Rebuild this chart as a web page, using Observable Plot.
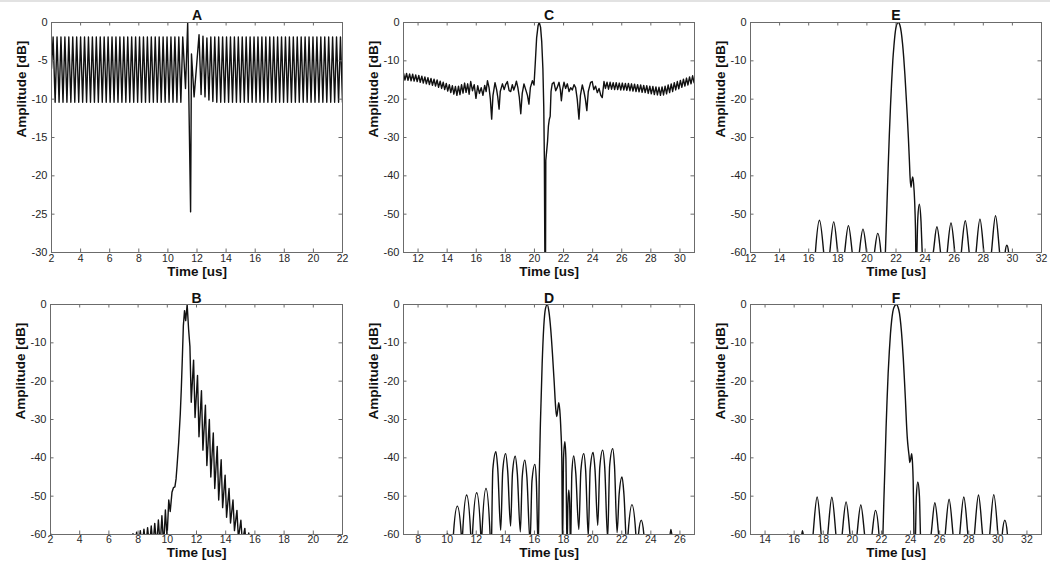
<!DOCTYPE html>
<html><head><meta charset="utf-8">
<script src="https://cdn.jsdelivr.net/npm/d3@7"></script>
<script src="https://cdn.jsdelivr.net/npm/@observablehq/plot@0.6"></script>
<style>
html,body{margin:0;padding:0;background:#fff;}
#root{position:relative;width:1050px;height:567px;overflow:hidden;background:#fff;}
#topband{position:absolute;left:0;top:0;width:1050px;height:2px;background:#e2e2e2;}
</style></head><body><div id="root"><div id="topband"></div></div>
<script>
// ---------- tick values ----------
const xTicksA = [2,4,6,8,10,12,14,16,18,20,22];
const xTicksB = [2,4,6,8,10,12,14,16,18,20,22];
const xTicksC = [12,14,16,18,20,22,24,26,28,30];
const xTicksD = [8,10,12,14,16,18,20,22,24,26];
const xTicksE = [12,14,16,18,20,22,24,26,28,30,32];
const xTicksF = [14,16,18,20,22,24,26,28,30,32];
const yTicksA = [0,-5,-10,-15,-20,-25,-30];
const yTicks60 = [0,-10,-20,-30,-40,-50,-60];

// ---------- traces: [time us, amplitude dB] ----------
const traceA = [[2.00,-6.0],
[2.11,-1.9],[2.25,-10.4],[2.38,-1.9],[2.52,-10.4],[2.65,-1.9],[2.79,-10.4],[2.92,-1.9],[3.06,-10.4],[3.19,-1.9],[3.33,-10.4],
[3.46,-1.9],[3.60,-10.4],[3.73,-1.9],[3.87,-10.4],[4.00,-1.9],[4.14,-10.4],[4.27,-1.9],[4.41,-10.4],[4.54,-1.9],[4.68,-10.4],
[4.81,-1.9],[4.95,-10.4],[5.08,-1.9],[5.22,-10.4],[5.35,-1.9],[5.49,-10.4],[5.62,-1.9],[5.76,-10.4],[5.89,-1.9],[6.03,-10.4],
[6.16,-1.9],[6.30,-10.4],[6.43,-1.9],[6.57,-10.4],[6.70,-1.9],[6.84,-10.4],[6.97,-1.9],[7.11,-10.4],[7.24,-1.9],[7.38,-10.4],
[7.51,-1.9],[7.65,-10.4],[7.78,-1.9],[7.92,-10.4],[8.05,-1.9],[8.19,-10.4],[8.32,-1.9],[8.46,-10.4],[8.59,-1.9],[8.73,-10.4],
[8.86,-1.9],[9.00,-10.4],[9.13,-1.9],[9.27,-10.4],[9.40,-1.9],[9.54,-10.4],[9.67,-1.9],[9.81,-10.4],[9.94,-1.9],[10.08,-10.4],
[10.21,-1.9],[10.35,-10.4],[10.48,-1.9],[10.62,-10.4],[10.75,-1.9],[10.89,-10.4],[11.02,-1.9],[11.21,-8.6],[11.36,0],
[11.56,-24.7],[11.62,-4.1],[11.80,-9.7],[12.14,-1.6],[12.28,-9.4],[12.41,-1.8],[12.55,-9.7],[12.68,-2.0],[12.82,-10.1],
[12.95,-1.9],[13.09,-10.3],[13.22,-1.9],[13.36,-10.4],[13.49,-1.9],[13.63,-10.4],[13.76,-1.9],[13.90,-10.4],[14.03,-1.9],
[14.17,-10.4],[14.30,-1.9],[14.44,-10.4],[14.57,-1.9],[14.71,-10.4],[14.84,-1.9],[14.98,-10.4],[15.11,-1.9],[15.25,-10.4],
[15.38,-1.9],[15.52,-10.4],[15.65,-1.9],[15.79,-10.4],[15.92,-1.9],[16.06,-10.4],[16.19,-1.9],[16.33,-10.4],[16.46,-1.9],
[16.60,-10.4],[16.73,-1.9],[16.87,-10.4],[17.00,-1.9],[17.14,-10.4],[17.27,-1.9],[17.41,-10.4],[17.54,-1.9],[17.68,-10.4],
[17.81,-1.9],[17.95,-10.4],[18.08,-1.9],[18.22,-10.4],[18.35,-1.9],[18.49,-10.4],[18.62,-1.9],[18.76,-10.4],[18.89,-1.9],
[19.03,-10.4],[19.16,-1.9],[19.30,-10.4],[19.43,-1.9],[19.57,-10.4],[19.70,-1.9],[19.84,-10.4],[19.97,-1.9],[20.11,-10.4],
[20.24,-1.9],[20.38,-10.4],[20.51,-1.9],[20.65,-10.4],[20.78,-1.9],[20.92,-10.4],[21.05,-1.9],[21.19,-10.4],[21.32,-1.9],
[21.46,-10.4],[21.59,-1.9],[21.73,-10.4],[21.86,-1.9],[22.00,-10.4]];

const traceB = [[2.00,-59.7],[2.08,-63],[7.50,-63],
[7.65,-59.8],[7.78,-63],[7.90,-59.4],[8.03,-63],[8.15,-59.0],[8.28,-63],[8.40,-58.6],[8.53,-63],[8.65,-58.2],[8.78,-63],
[8.90,-57.8],[9.02,-63],[9.14,-57.1],[9.27,-63],[9.39,-56.2],[9.51,-63],[9.63,-55.1],[9.75,-63],[9.87,-53.6],[9.98,-61],
[10.10,-51.0],[10.20,-54.0],[10.32,-49.0],[10.42,-47.8],[10.52,-47.6],[10.60,-45.5],[10.67,-42],[10.78,-36],[10.89,-28.5],
[10.96,-22],[11.03,-14],[11.10,-5.5],[11.18,-1.6],[11.26,-4.2],[11.36,0],[11.46,-6.5],[11.55,-11.0],[11.64,-25.5],
[11.80,-14.5],[11.90,-29.5],[12.07,-18.5],[12.17,-34.5],[12.34,-22.5],[12.44,-38],[12.61,-26.3],[12.71,-42],[12.88,-30],
[12.98,-45],[13.15,-33.5],[13.25,-48],[13.42,-37],[13.52,-51],[13.69,-40.5],[13.79,-53],[13.96,-44.5],[14.06,-55.5],
[14.23,-48],[14.33,-57],[14.50,-51],[14.60,-59],[14.77,-53.7],[14.87,-61],[15.04,-56.3],[15.14,-62],[15.31,-58.4],
[15.41,-63],[15.58,-59.6],[15.68,-64],[15.80,-66]];

const traceC = [[11.00,-13.2],[11.10,-15.0],[11.21,-13.3],[11.31,-15.1],[11.42,-13.4],[11.52,-15.2],[11.63,-13.5],[11.73,-15.3],
[11.84,-13.7],[11.94,-15.4],[12.05,-13.8],[12.15,-15.6],[12.26,-14.0],[12.36,-15.8],[12.47,-14.2],[12.57,-16.0],[12.68,-14.4],
[12.78,-16.2],[12.89,-14.6],[12.99,-16.4],[13.10,-14.8],[13.20,-16.6],[13.31,-15.0],[13.41,-16.9],[13.52,-15.3],[13.62,-17.2],
[13.73,-15.6],[13.83,-17.5],[13.94,-15.9],[14.04,-17.9],[14.15,-16.2],[14.25,-18.3],[14.36,-16.5],[14.46,-18.7],[14.57,-16.7],
[14.67,-19.0],[14.78,-16.6],[14.88,-18.8],[14.99,-16.2],[15.09,-18.4],[15.20,-15.8],[15.30,-18.2],[15.41,-16.0],[15.51,-18.7],
[15.62,-15.4],[15.74,-17.8],[15.86,-16.2],[15.98,-19.8],[16.10,-16.5],[16.22,-18.5],[16.34,-17.0],[16.46,-19.0],[16.58,-16.4],
[16.68,-18.0],[16.77,-15.2],[16.88,-17.0],[16.97,-20.0],[17.06,-25.2],[17.15,-19.0],[17.29,-15.7],[17.40,-17.5],[17.48,-19.5],
[17.57,-22.6],[17.65,-18.0],[17.80,-16.0],[17.92,-17.5],[18.02,-16.2],[18.14,-15.4],[18.26,-17.8],[18.37,-18.0],[18.48,-16.2],
[18.58,-17.6],[18.68,-16.5],[18.76,-15.3],[18.86,-17.0],[18.96,-19.5],[19.06,-23.8],[19.16,-18.5],[19.28,-16.0],[19.40,-17.5],
[19.52,-19.0],[19.62,-21.3],[19.72,-17.0],[19.86,-15.2],[19.97,-16.3],[20.05,-11.0],[20.15,-4.0],[20.25,-0.8],[20.33,0],
[20.42,-1.2],[20.50,-5.0],[20.58,-12.0],[20.64,-22.0],[20.68,-35.0],[20.72,-65],[20.76,-65],[20.78,-36.0],[20.84,-33.5],
[20.90,-31],[20.96,-27.0],[21.02,-25.3],[21.08,-24.5],[21.14,-18.0],[21.22,-16.0],
[21.34,-15.6],[21.46,-17.8],[21.56,-17.0],[21.69,-15.6],[21.78,-17.5],[21.85,-20.4],[21.93,-17.5],[22.03,-15.6],[22.14,-17.2],
[22.26,-16.0],[22.38,-18.0],[22.49,-17.0],[22.60,-17.6],[22.72,-16.2],[22.83,-17.0],[22.94,-20.0],[23.06,-25.2],[23.16,-19.0],
[23.29,-16.3],[23.40,-18.0],[23.50,-20.0],[23.60,-23.0],[23.70,-18.0],[23.86,-15.6],[23.97,-15.4],[24.08,-17.5],[24.20,-16.6],
[24.32,-18.3],[24.44,-17.2],[24.56,-19.0],[24.66,-19.6],[24.78,-15.4],[24.88,-17.2],
[24.99,-15.6],[25.09,-17.4],[25.20,-15.6],[25.30,-17.4],[25.41,-15.7],[25.51,-17.5],[25.62,-15.7],[25.72,-17.5],[25.83,-15.8],
[25.93,-17.6],[26.04,-15.8],[26.14,-17.6],[26.25,-15.9],[26.35,-17.7],[26.46,-15.9],[26.56,-17.8],[26.67,-16.0],[26.77,-17.9],
[26.88,-16.1],[26.98,-18.0],[27.09,-16.2],[27.19,-18.1],[27.30,-16.3],[27.40,-18.2],[27.51,-16.4],[27.61,-18.3],[27.72,-16.5],
[27.82,-18.5],[27.93,-16.6],[28.03,-18.6],[28.14,-16.7],[28.24,-18.8],[28.35,-16.8],[28.45,-18.9],[28.56,-16.9],[28.66,-19.0],
[28.77,-16.8],[28.87,-18.9],[28.98,-16.6],[29.08,-18.6],[29.19,-16.3],[29.29,-18.3],[29.40,-16.0],[29.50,-18.0],[29.61,-15.7],
[29.71,-17.6],[29.82,-15.4],[29.92,-17.3],[30.03,-15.1],[30.13,-16.9],[30.24,-14.8],[30.34,-16.6],[30.45,-14.5],[30.55,-16.3],
[30.66,-14.2],[30.76,-16.0],[30.87,-13.9],[30.97,-15.7],[31.00,-15.0]];

const traceD = [[9.90,-62],[10.02,-59.7],[10.14,-62],
[10.36,-70],[10.43,-60],[10.70,-52.6],[10.97,-60],[11.02,-70],
[11.06,-60],[11.34,-49.7],[11.62,-60],[11.68,-70],
[11.74,-60],[12.03,-49.1],[12.31,-60],[12.35,-70],
[12.39,-60],[12.67,-48.0],[12.95,-60],[13.00,-70],
[13.14,-43],[13.35,-38.4],[13.48,-43],[13.68,-58.9],
[13.82,-43.4],[14.02,-38.9],[14.16,-43.4],[14.36,-57.8],
[14.49,-44],[14.68,-39.6],[14.82,-44],[15.03,-59.3],
[15.16,-45],[15.34,-40.6],[15.48,-45],[15.70,-62],
[15.83,-46],[16.03,-41.7],[16.13,-46],[16.26,-64],
[16.33,-45],[16.41,-31],[16.53,-15.4],[16.64,-5.8],[16.76,-1.0],[16.88,0],[17.00,-2.0],[17.12,-6.5],[17.24,-13],
[17.36,-20.5],[17.46,-27],[17.53,-29.2],[17.60,-27.5],[17.67,-25.6],[17.74,-27.5],[17.82,-33],[17.88,-40],[17.93,-64],
[18.00,-40],[18.09,-35.8],[18.16,-40],[18.24,-64],
[18.30,-52],[18.36,-48.4],[18.42,-52],[18.48,-64],
[18.57,-44],[18.70,-39.5],[18.84,-44],[19.05,-58.7],
[19.19,-43.4],[19.39,-38.9],[19.52,-43.4],[19.70,-60.5],
[19.83,-43],[20.03,-38.6],[20.16,-43],[20.35,-57.6],
[20.49,-42.5],[20.69,-38.0],[20.83,-42.5],[21.03,-61],
[21.17,-42],[21.38,-37.6],[21.50,-42],[21.68,-59.5],
[21.82,-49.5],[22.02,-45.0],[22.15,-49.5],[22.36,-64],
[22.43,-60],[22.70,-52.2],[22.97,-60],[23.02,-70],
[23.15,-60],[23.34,-56.3],[23.52,-60],[23.60,-70],
[25.25,-62],[25.38,-58.7],[25.50,-62]];

const traceE = [[16.30,-70],[16.46,-60],[16.74,-51.6],[17.03,-60],[17.23,-70],
[17.45,-60],[17.72,-52.0],[17.99,-60],[18.22,-70],
[18.47,-60],[18.73,-53.0],[18.99,-60],[19.23,-70],
[19.48,-60],[19.73,-53.9],[19.98,-60],[20.23,-70],
[20.52,-60],[20.74,-55.0],[20.96,-60],[21.10,-70],
[21.27,-60],[21.38,-47.4],[21.46,-38],[21.54,-29.5],[21.62,-22],[21.70,-15.5],[21.78,-10],[21.86,-6],[21.95,-2.5],
[22.05,-0.5],[22.16,0],[22.27,-0.7],[22.36,-2.5],[22.45,-5.5],[22.53,-9.1],[22.61,-13.5],[22.69,-18.7],[22.77,-24],
[22.85,-30],[22.92,-36],[22.97,-40.5],[23.03,-43],[23.08,-41.5],[23.15,-40.3],[23.21,-42],[23.28,-46.5],[23.34,-54],[23.40,-70],
[23.44,-60],[23.50,-51],[23.60,-47.4],[23.72,-52],[23.80,-60],[23.95,-70],
[24.56,-60],[24.81,-53.3],[25.06,-60],[25.30,-70],
[25.52,-60],[25.78,-52.3],[26.04,-60],[26.28,-70],
[26.49,-60],[26.76,-51.7],[27.03,-60],[27.27,-70],
[27.50,-60],[27.77,-51.3],[28.04,-60],[28.30,-70],
[28.56,-60],[28.84,-50.4],[29.12,-60],[29.35,-70],
[29.50,-60],[29.62,-58.1],[29.74,-60],[29.85,-70]];

const traceF = [[15.45,-62],[15.57,-59.9],[15.68,-62],
[16.45,-62],[16.57,-59.0],[16.70,-62],[17.10,-70],
[17.30,-60],[17.58,-50.2],[17.86,-60],[18.08,-70],
[18.31,-60],[18.59,-50.3],[18.87,-60],[19.08,-70],
[19.30,-60],[19.57,-51.5],[19.84,-60],[20.08,-70],
[20.32,-60],[20.58,-52.3],[20.84,-60],[21.08,-70],
[21.35,-60],[21.59,-53.7],[21.83,-60],[21.98,-70],
[22.10,-60],[22.16,-52],[22.21,-45.8],[22.27,-38.5],[22.32,-31.9],[22.39,-24.5],[22.46,-18],[22.54,-12.3],[22.62,-7.6],
[22.70,-4.2],[22.78,-1.9],[22.90,-0.4],[23.03,0],[23.14,-0.7],[23.24,-2.3],[23.33,-5.2],[23.42,-9.3],[23.50,-14],[23.58,-19.7],
[23.65,-25],[23.72,-31],[23.78,-35],[23.84,-37.5],[23.90,-39.5],[23.95,-41.2],[24.01,-40.3],[24.08,-38.9],[24.13,-41],
[24.18,-46],[24.22,-55],[24.26,-70],
[24.34,-60],[24.40,-50],[24.50,-46.3],[24.61,-50],[24.68,-60],[24.85,-70],
[25.41,-60],[25.67,-51.7],[25.93,-60],[26.16,-70],
[26.38,-60],[26.65,-50.8],[26.92,-60],[27.16,-70],
[27.38,-60],[27.66,-50.2],[27.94,-60],[28.17,-70],
[28.39,-60],[28.67,-49.7],[28.95,-60],[29.20,-70],
[29.44,-60],[29.72,-49.6],[30.00,-60],[30.16,-70],
[30.30,-60],[30.48,-56.3],[30.66,-60],[30.80,-70]];

// ---------- panel layout ----------
const panels = [
  {title:"A", trace:traceA, xDomain:[2,22], xTicks:xTicksA, yDomain:[-30,0], yTicks:yTicksA, curve:"linear",
   left:0, top:0, ml:51, mr:8, mt:22, mb:30, h:282, tickPad:2, labDy:23.5, titleDy:-12},
  {title:"C", trace:traceC, xDomain:[11,31], xTicks:xTicksC, yDomain:[-60,0], yTicks:yTicks60, curve:"linear",
   left:350, top:0, ml:53, mr:6, mt:22, mb:30, h:282, tickPad:2, labDy:23.5, titleDy:-12},
  {title:"E", trace:traceE, xDomain:[12,32], xTicks:xTicksE, yDomain:[-60,0], yTicks:yTicks60, curve:"monotone-x",
   left:700, top:0, ml:50, mr:9, mt:22, mb:30, h:282, tickPad:2, labDy:23.5, titleDy:-12},
  {title:"B", trace:traceB, xDomain:[2,22], xTicks:xTicksB, yDomain:[-60,0], yTicks:yTicks60, curve:"linear",
   left:0, top:282, ml:50, mr:8, mt:22, mb:33, h:285, tickPad:1, labDy:22.5, titleDy:-11},
  {title:"D", trace:traceD, xDomain:[7,27], xTicks:xTicksD, yDomain:[-60,0], yTicks:yTicks60, curve:"monotone-x",
   left:350, top:282, ml:53, mr:6, mt:22, mb:33, h:285, tickPad:1, labDy:22.5, titleDy:-11},
  {title:"F", trace:traceF, xDomain:[13,33], xTicks:xTicksF, yDomain:[-60,0], yTicks:yTicks60, curve:"monotone-x",
   left:700, top:282, ml:50, mr:9, mt:22, mb:33, h:285, tickPad:1, labDy:22.5, titleDy:-11}
];

const root = document.getElementById("root");
const axisColor = "#6b6b6b";
for (const p of panels) {
  const [x0, x1] = p.xDomain, [y0, y1] = p.yDomain;
  const tlY = (y1 - y0) * 3.5 / 230;
  const tlX = (x1 - x0) * 3.5 / 291;
  const chart = Plot.plot({
    width: 350, height: p.h,
    marginLeft: p.ml, marginRight: p.mr, marginTop: p.mt, marginBottom: p.mb,
    x: {domain: p.xDomain}, y: {domain: p.yDomain},
    style: {fontFamily: "'Liberation Sans', Arial, sans-serif", fontSize: "11px", color: "#262626", background: "transparent", overflow: "visible"},
    marks: [
      Plot.line(p.trace, {x: d => d[0], y: d => d[1], curve: p.curve, stroke: "#111", strokeWidth: 1.4, clip: true}),
      Plot.ruleX(p.xTicks, {x: d => d, y1: y0, y2: y0 + tlY, stroke: axisColor}),
      Plot.ruleX(p.xTicks, {x: d => d, y1: y1, y2: y1 - tlY, stroke: axisColor}),
      Plot.ruleY(p.yTicks, {y: d => d, x1: x0, x2: x0 + tlX, stroke: axisColor}),
      Plot.ruleY(p.yTicks, {y: d => d, x1: x1, x2: x1 - tlX, stroke: axisColor}),
      Plot.frame({stroke: axisColor}),
      Plot.axisX({ticks: p.xTicks, tickSize: 0, tickPadding: p.tickPad, tickFormat: d => String(d), label: null, fontSize: 10.5}),
      Plot.axisY({ticks: p.yTicks, tickSize: 0, tickPadding: 4, tickFormat: d => String(d), label: null}),
      Plot.text([p.title], {frameAnchor: "top", dy: p.titleDy, text: d => d, fontWeight: "bold", fontSize: 14, fill: "#111"}),
      Plot.text(["Time [us]"], {frameAnchor: "bottom", dy: p.labDy, text: d => d, fontWeight: "bold", fontSize: 13.5, fill: "#111"}),
      Plot.text(["Amplitude [dB]"], {frameAnchor: "left", dx: -30, rotate: -90, text: d => d, fontWeight: "bold", fontSize: 13.5, fill: "#111"})
    ]
  });
  chart.style.position = "absolute";
  chart.style.left = p.left + "px";
  chart.style.top = p.top + "px";
  root.appendChild(chart);
}
</script>
</body></html>
